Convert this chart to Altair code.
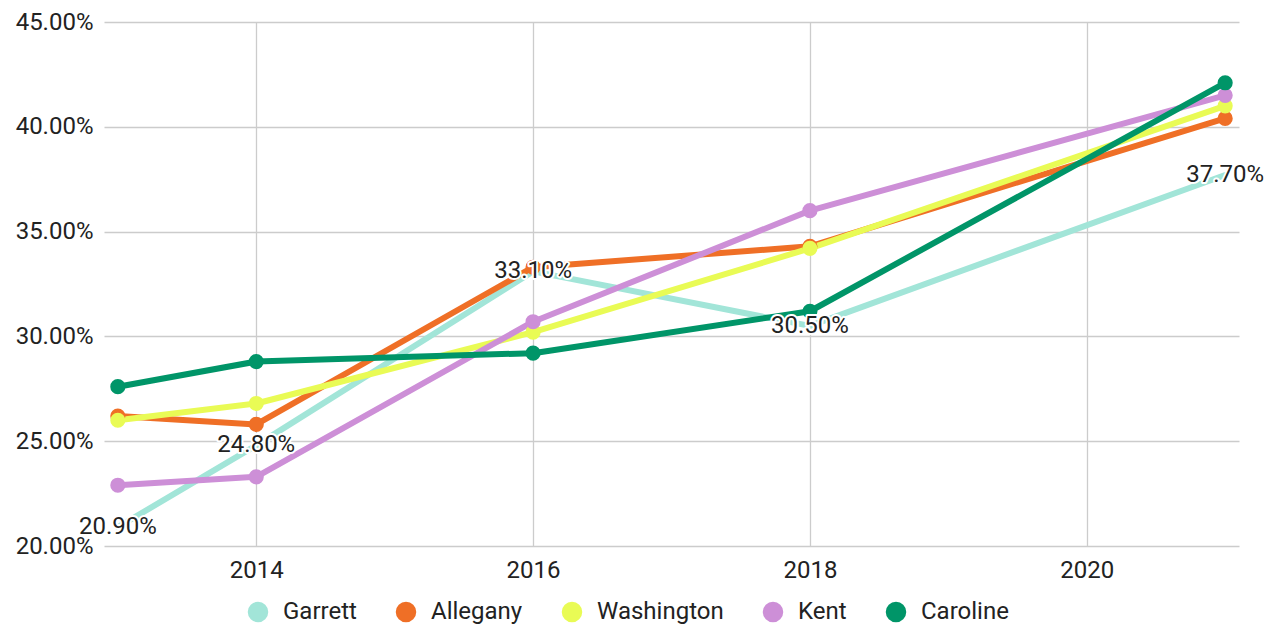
import altair as alt
import pandas as pd

years = [2013, 2014, 2016, 2018, 2021]
counties = ["Garrett", "Allegany", "Washington", "Kent", "Caroline"]
colors = ["#a2e5d8", "#ef6f26", "#e9fb55", "#cd8fd7", "#009568"]

garrett = [0.209, 0.248, 0.331, 0.305, 0.377]
allegany = [0.262, 0.258, 0.333, 0.343, 0.404]
washington = [0.260, 0.268, 0.302, 0.342, 0.410]
kent = [0.229, 0.233, 0.307, 0.360, 0.415]
caroline = [0.276, 0.288, 0.292, 0.312, 0.421]

x_ticks = [2014, 2016, 2018, 2020]

series = dict(zip(counties, [garrett, allegany, washington, kent, caroline]))
rows = []
for i, c in enumerate(counties):
    for y, v in zip(years, series[c]):
        rows.append({"county": c, "year": y, "value": v, "order": i})
df = pd.DataFrame(rows)

FONT = "Roboto"
FS = 24

x_enc = alt.X("year:Q",
              scale=alt.Scale(domain=[2012.9, 2021.1], nice=False, zero=False),
              axis=alt.Axis(values=x_ticks, format="d", title=None, domain=False,
                            ticks=False, labelPadding=12, labelFontSize=FS,
                            labelFont=FONT, labelColor="#222222",
                            gridColor="#cccccc", gridWidth=1.3))
y_enc = alt.Y("value:Q",
              scale=alt.Scale(domain=[0.20, 0.45], nice=False, zero=False),
              axis=alt.Axis(values=[0.20, 0.25, 0.30, 0.35, 0.40, 0.45], format=".2%",
                            title=None, domain=False, ticks=False, labelPadding=11,
                            labelFontSize=FS, labelFont=FONT, labelColor="#222222",
                            gridColor="#cccccc", gridWidth=1.3))
color_scale = alt.Scale(domain=counties, range=colors)

legend = alt.Legend(title=None, orient="none", direction="horizontal",
                    legendX=142, legendY=578,
                    symbolType="circle", symbolSize=420, symbolStrokeWidth=0,
                    symbolOpacity=1,
                    labelFontSize=FS, labelFont=FONT,
                    labelColor="#222222", labelOffset=13, columnPadding=37)

base = alt.Chart(df)

lines = base.mark_line(strokeWidth=6, strokeCap="round", strokeJoin="round").encode(
    x=x_enc, y=y_enc,
    color=alt.Color("county:N", scale=color_scale, legend=legend),
    detail="county:N",
    order=alt.Order("year:Q"),
)

points = base.transform_filter(alt.datum.county != "Garrett").mark_circle(
    size=230, opacity=1).encode(
    x=alt.X("year:Q"), y=alt.Y("value:Q"),
    color=alt.Color("county:N", scale=color_scale, legend=legend),
)

lab_base = base.transform_filter(alt.datum.county == "Garrett")
halo = lab_base.mark_text(fontSize=FS, font=FONT, stroke="white", strokeWidth=4,
                          fill="white", strokeJoin="round").encode(
    x="year:Q", y="value:Q", text=alt.Text("value:Q", format=".2%"))
labels = lab_base.mark_text(fontSize=FS, font=FONT, color="#222222").encode(
    x="year:Q", y="value:Q", text=alt.Text("value:Q", format=".2%"))

chart = alt.layer(lines, points, halo, labels).properties(
    width=1135, height=524,
    autosize=alt.AutoSizeParams(type="none"),
    padding={"left": 96, "top": 14, "right": 27, "bottom": 79},
).configure_view(stroke=None).configure_axis(grid=True)

chart.save("out.html", embed_options={"renderer": "svg", "actions": False})
